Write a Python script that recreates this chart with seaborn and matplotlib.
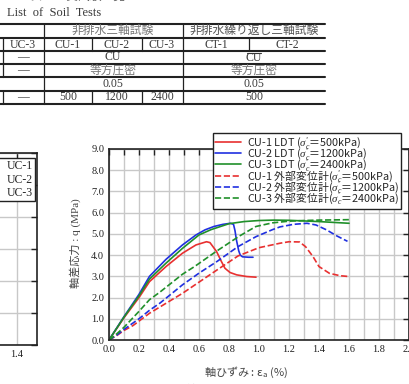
import numpy as np
import pandas as pd
import seaborn as sns
import matplotlib.pyplot as plt
from matplotlib.lines import Line2D

# --- data ---
cu1_ldt_x = [0, 0.1, 0.2, 0.27, 0.38, 0.49, 0.58, 0.65, 0.673, 0.717, 0.75, 0.773, 0.807, 0.851, 0.918, 0.98]
cu1_ldt_q = [0, 1.05, 2.0, 2.75, 3.46, 4.09, 4.48, 4.63, 4.59, 4.17, 3.69, 3.38, 3.18, 3.07, 2.99, 2.96]

cu2_ldt_x = [0, 0.1, 0.2, 0.27, 0.38, 0.49, 0.58, 0.64, 0.7, 0.76, 0.81, 0.83, 0.84, 0.85, 0.865, 0.875, 0.89, 0.93, 0.96]
cu2_ldt_q = [0, 1.1, 2.15, 3.0, 3.8, 4.48, 4.95, 5.19, 5.35, 5.45, 5.5, 5.45, 5.15, 4.7, 4.2, 4.0, 3.92, 3.9, 3.9]

cu3_ldt_x = [0, 0.1, 0.2, 0.27, 0.38, 0.49, 0.6, 0.68, 0.8, 0.9, 1.0, 1.1, 1.2, 1.3, 1.4, 1.5, 1.6]
cu3_ldt_q = [0, 1.08, 2.08, 2.87, 3.62, 4.32, 4.95, 5.2, 5.48, 5.58, 5.63, 5.65, 5.64, 5.61, 5.58, 5.54, 5.5]

cu1_ext_x = [0, 0.05, 0.1, 0.16, 0.27, 0.49, 0.72, 0.86, 1.0, 1.14, 1.2, 1.27, 1.31, 1.36, 1.4, 1.47, 1.54, 1.6]
cu1_ext_q = [0, 0.2, 0.45, 0.68, 1.26, 2.2, 3.3, 3.96, 4.35, 4.56, 4.63, 4.62, 4.4, 3.93, 3.46, 3.14, 3.03, 2.99]

cu2_ext_x = [0, 0.05, 0.1, 0.2, 0.27, 0.34, 0.49, 0.6, 0.72, 0.86, 0.98, 1.09, 1.14, 1.23, 1.32, 1.38, 1.45, 1.52, 1.59]
cu2_ext_q = [0, 0.22, 0.5, 1.0, 1.4, 1.74, 2.6, 3.15, 3.7, 4.4, 4.87, 5.2, 5.33, 5.45, 5.5, 5.42, 5.19, 4.9, 4.65]

cu3_ext_x = [0, 0.05, 0.1, 0.2, 0.27, 0.34, 0.49, 0.57, 0.72, 0.87, 0.98, 1.09, 1.2, 1.3, 1.4, 1.5, 1.6]
cu3_ext_q = [0, 0.28, 0.6, 1.35, 1.9, 2.26, 3.1, 3.46, 4.2, 4.9, 5.35, 5.52, 5.6, 5.63, 5.65, 5.66, 5.67]

labels = [
    r"CU-1 LDT ($\sigma^{\prime}_{c}$＝500kPa)",
    r"CU-2 LDT ($\sigma^{\prime}_{c}$＝1200kPa)",
    r"CU-3 LDT ($\sigma^{\prime}_{c}$＝2400kPa)",
    r"CU-1 外部変位計($\sigma^{\prime}_{c}$＝500kPa)",
    r"CU-2 外部変位計($\sigma^{\prime}_{c}$＝1200kPa)",
    r"CU-3 外部変位計($\sigma^{\prime}_{c}$＝2400kPa)",
]
uc_labels = ["UC-1", "UC-2", "UC-3"]

# table contents
tbl_groups = ["非排水三軸試験", "非排水繰り返し三軸試験"]
tbl_ids = ["UC-3", "CU-1", "CU-2", "CU-3", "CT-1", "CT-2"]
tbl_pressure = ["—", "500", "1200", "2400", "500"]

sns.set_style("white")
plt.rcParams['font.family'] = ['Liberation Serif', 'Noto Sans CJK JP', 'DejaVu Sans']
plt.rcParams['mathtext.fontset'] = 'custom'
plt.rcParams['mathtext.rm'] = 'Noto Sans CJK JP'
plt.rcParams['mathtext.it'] = 'Liberation Serif:italic'
plt.rcParams['mathtext.bf'] = 'Noto Sans CJK JP:bold'

JP = 'Noto Sans CJK JP'

W, H = 410, 384
fig = plt.figure(figsize=(W / 100, H / 100), dpi=100)


def fx(x):
    return x / W


def fy(y):
    return 1 - y / H


# ---------- table at top ----------
tc = '#3a3a3a'
fig.text(fx(125), fy(2.5), "表-1 土質試験一覧", ha='right', va='bottom', fontsize=8.5, color='#555')
fig.text(fx(7), fy(13), "List  of  Soil  Tests", ha='left', va='center', fontsize=9, color=tc)

rows = [24, 38, 51, 64, 77, 91, 104]
for r in rows:
    fig.add_artist(Line2D([fx(0), fx(325)], [fy(r), fy(r)], color='#222', lw=1.5))
# vertical lines
for x in [44, 183]:
    fig.add_artist(Line2D([fx(x), fx(x)], [fy(24), fy(104)], color='#222', lw=0.9))
for r0, r1 in [(38, 51), (91, 104)]:
    for x in [92, 142]:
        fig.add_artist(Line2D([fx(x), fx(x)], [fy(r0), fy(r1)], color='#222', lw=0.9))
fig.add_artist(Line2D([fx(249), fx(249)], [fy(38), fy(51)], color='#222', lw=0.9))
for r0, r1 in [(38, 51), (51, 64), (64, 77), (91, 104)]:
    fig.add_artist(Line2D([fx(3), fx(3)], [fy(r0), fy(r1)], color='#222', lw=0.9))

fs_t = 8.5
cx = [23, 68, 117, 162, 216, 287]
fig.text(fx(113), fy(31), tbl_groups[0], ha='center', va='center', fontsize=fs_t, color='#777')
fig.text(fx(254), fy(31), tbl_groups[1], ha='center', va='center', fontsize=fs_t, color='#555')
for x, t in zip(cx, tbl_ids):
    fig.text(fx(x), fy(44.5), t, ha='center', va='center', fontsize=fs_t, color=tc)
fig.text(fx(23), fy(57.5), "—", ha='center', va='center', fontsize=fs_t, color=tc)
fig.text(fx(113), fy(57.5), "CU", ha='center', va='center', fontsize=fs_t, color=tc)
fig.text(fx(254), fy(58), "CU", ha='center', va='center', fontsize=fs_t, color=tc)
fig.add_artist(Line2D([fx(247), fx(261)], [fy(53.3), fy(53.3)], color=tc, lw=0.8))
fig.text(fx(23), fy(70.5), "—", ha='center', va='center', fontsize=fs_t, color=tc)
fig.text(fx(113), fy(70.5), "等方圧密", ha='center', va='center', fontsize=fs_t, color='#777')
fig.text(fx(254), fy(70.5), "等方圧密", ha='center', va='center', fontsize=fs_t, color='#777')
fig.text(fx(113), fy(84), "0.05", ha='center', va='center', fontsize=fs_t, color=tc)
fig.text(fx(254), fy(84), "0.05", ha='center', va='center', fontsize=fs_t, color=tc)
for x, t in zip([23, 68, 117, 162, 254], tbl_pressure):
    fig.text(fx(x), fy(97.5), t, ha='center', va='center', fontsize=fs_t, color=tc)

# ---------- left (cropped) chart ----------
axl = fig.add_axes([fx(-263), fy(345), 300 / W, (345 - 153) / H])
for lab, c in zip(uc_labels, ['#e83030', '#2030e0', '#20902a']):
    axl.plot([], [], color=c, lw=1.2, label=lab)
axl.set_xlim(0, 1.5)
axl.set_ylim(0, 6)
lx = np.arange(0, 1.51, 0.2)
axl.set_xticks(lx)
axl.set_xticklabels(["1.4" if abs(v - 1.4) < 1e-6 else "" for v in lx])
axl.set_yticks(np.arange(0, 6.1, 1))
axl.grid(True, color='#c8c8c8', lw=1)
axl.tick_params(direction='in', top=True, right=True, labelleft=False, labelsize=7.5,
                length=4, width=1, colors='#222')
for s in axl.spines.values():
    s.set_color('#222')
    s.set_linewidth(1.2)
axl.legend(loc='upper right', bbox_to_anchor=(fx(35), fy(158)), bbox_transform=fig.transFigure,
           fontsize=8.5, frameon=True, fancybox=False, edgecolor='#222', borderaxespad=0,
           borderpad=0.2, labelspacing=0.1, handlelength=2.0, framealpha=1)

# ---------- main chart ----------
ax = fig.add_axes([fx(109), fy(340), (409 - 109) / W, (340 - 149) / H])
series = [
    (cu1_ldt_x, cu1_ldt_q, '#e83030', '-'),
    (cu2_ldt_x, cu2_ldt_q, '#2030e0', '-'),
    (cu3_ldt_x, cu3_ldt_q, '#20902a', '-'),
    (cu1_ext_x, cu1_ext_q, '#e83030', '--'),
    (cu2_ext_x, cu2_ext_q, '#2030e0', '--'),
    (cu3_ext_x, cu3_ext_q, '#20902a', '--'),
]
for (xs, qs, c, ls), lab in zip(series, labels):
    sns.lineplot(x=xs, y=qs, ax=ax, color=c, linestyle=ls, lw=1.2, label=lab,
                 sort=False, estimator=None)

ax.set_xlim(0, 2.0)
ax.set_ylim(0, 9.0)
ax.set_xticks(np.arange(0, 2.01, 0.2))
ax.set_xticks(np.arange(0, 2.01, 0.1), minor=True)
ax.set_yticks(np.arange(0, 9.01, 1.0))
ax.set_xticklabels([f"{v:.1f}" for v in np.arange(0, 2.01, 0.2)])
ax.set_yticklabels([f"{v:.1f}" for v in np.arange(0, 9.01, 1.0)])
ax.grid(True, which='both', axis='x', color='#c8c8c8', lw=1)
ax.grid(True, which='major', axis='y', color='#c8c8c8', lw=1)
ax.set_axisbelow(True)
ax.tick_params(which='both', direction='in', top=True, right=True, labelsize=7.5,
               width=1, length=4, colors='#222')
for s in ax.spines.values():
    s.set_color('#222')
    s.set_linewidth(1.2)

ax.set_xlabel("")
ax.set_ylabel("")
fig.text(fx(246), fy(372), r"軸ひずみ : ε$_{\mathrm{a}}$ (%)", ha='center', va='center',
         fontsize=8, color='#444', family=JP)
fig.text(fx(75), fy(243), "軸差応力 : q (MPa)", ha='center', va='center', rotation=90,
         fontsize=8, color='#444')
fig.text(fx(222), fy(384.5), "図-5 軸差応力-軸ひずみ曲線", ha='center', va='top',
         fontsize=8.5, color='#777')

ax.legend(loc='upper left', bbox_to_anchor=(fx(213), fy(133)), bbox_transform=fig.transFigure,
          prop={'family': JP, 'size': 7.8}, frameon=True, fancybox=False, edgecolor='#222',
          borderaxespad=0, borderpad=0.2, labelspacing=-0.45, handlelength=2.4,
          handletextpad=0.5, framealpha=1)

fig.savefig("out.png", dpi=100)
